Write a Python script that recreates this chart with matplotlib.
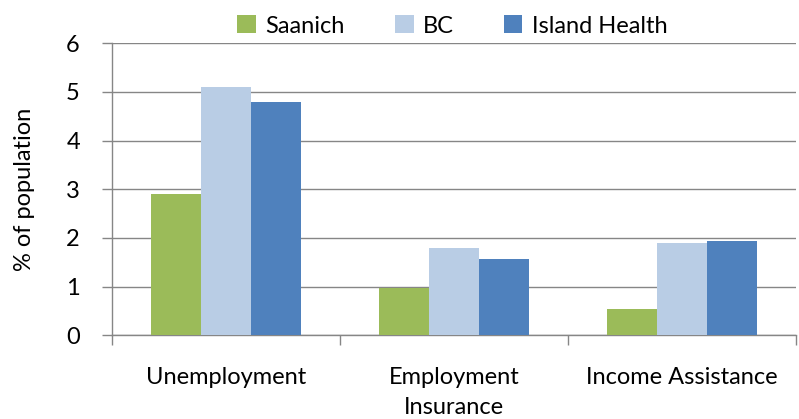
import matplotlib
matplotlib.use("Agg")
import matplotlib.pyplot as plt
import numpy as np

categories = ["Unemployment", "Employment\nInsurance", "Income Assistance"]
series_names = ["Saanich", "BC", "Island Health"]
saanich = [2.9, 0.96, 0.53]
bc = [5.1, 1.79, 1.90]
island_health = [4.8, 1.57, 1.94]
colors = ["#9BBB59", "#B9CDE5", "#4F81BD"]
yticks = [0, 1, 2, 3, 4, 5, 6]

plt.rcParams['font.family'] = ['Lato', 'DejaVu Sans']
FS = 17

fig = plt.figure(figsize=(7.99, 4.19), dpi=100)
ax = fig.add_axes([0.140, 0.200, 0.856, 0.697])

x = np.arange(len(categories))
w = 0.22
for i, (vals, name, c) in enumerate(zip([saanich, bc, island_health], series_names, colors)):
    ax.bar(x + (i - 1) * w, vals, width=w, color=c, label=name, zorder=3)

ax.set_xlim(-0.5, len(categories) - 0.5)
ax.set_ylim(0, 6)
ax.set_yticks(yticks)
ax.set_yticklabels([str(t) for t in yticks], fontsize=FS)
ax.yaxis.grid(True, color="#868686", linewidth=1.0, zorder=0)
ax.set_axisbelow(True)

ax.set_xticks(x)
ax.set_xticklabels(categories, fontsize=FS, linespacing=1.55)
ax.set_xticks(np.arange(-0.5, len(categories)), minor=True)
ax.tick_params(axis='x', which='major', length=0, pad=23)
ax.tick_params(axis='x', which='minor', length=7, color="#868686", width=1)
ax.tick_params(axis='y', length=7, color="#868686", width=1, pad=16)

for s in ["top", "right"]:
    ax.spines[s].set_visible(False)
for s in ["left", "bottom"]:
    ax.spines[s].set_color("#868686")
    ax.spines[s].set_linewidth(1)

ax.set_ylabel("% of population", fontsize=FS, labelpad=22)

ax.legend(loc="lower center", bbox_to_anchor=(0.498, 0.99), ncol=3, frameon=False,
          fontsize=FS, handlelength=0.8, handleheight=0.8, handletextpad=0.4,
          columnspacing=2.1, borderaxespad=0)

fig.savefig("out.png", dpi=100)
